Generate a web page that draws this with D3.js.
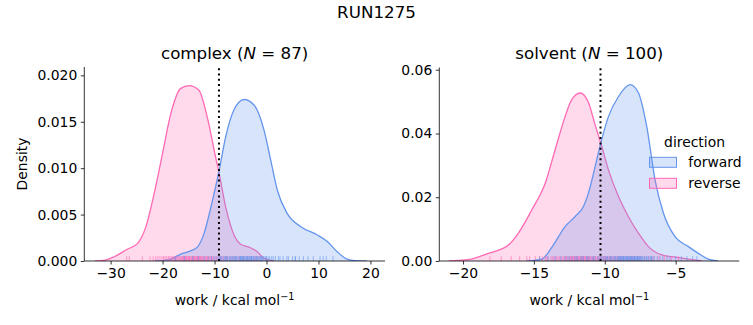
<!DOCTYPE html>
<html>
<head>
<meta charset="utf-8">
<script src="https://cdn.jsdelivr.net/npm/d3@7/dist/d3.min.js"></script>
<style>
html, body { margin: 0; padding: 0; background: #fff; }
svg { display: block; font-family: "DejaVu Sans", sans-serif; }
</style>
</head>
<body>
<svg id="chart" width="753" height="325"></svg>
<script>
// ---------- data ----------
const figureTitle = "RUN1275";
const directions = ["forward", "reverse"];
const colors = { forward: "#6495ED", reverse: "#FF69B4" };

// KDE curves: [work, density]
const complexForwardCurve = [[-21.5,0],[-20,0.00005],[-18.4,0.0002],[-16.5,0.00075],[-14.6,0.0011],[-13.3,0.0015],[-12.0,0.0030],[-10.7,0.0058],[-9.13,0.0097],[-7.85,0.0134],[-6.25,0.0163],[-4.33,0.0174],[-2.4,0.0168],[-0.48,0.0141],[0.8,0.0109],[2.1,0.0076],[4.0,0.0051],[6.6,0.0037],[9.8,0.0028],[11.7,0.0021],[13.6,0.0010],[15.5,0.0002],[17,0.00004],[19.3,0]];
const complexReverseCurve = [[-33,0],[-31,0.0001],[-29.3,0.00046],[-26.8,0.00126],[-24.8,0.0019],[-23.2,0.0037],[-21.6,0.0073],[-20.0,0.0116],[-18.4,0.0159],[-16.5,0.0186],[-14.9,0.0189],[-13.0,0.0184],[-11.4,0.0155],[-9.8,0.0112],[-9.13,0.0095],[-7.85,0.0058],[-6.25,0.0028],[-4.96,0.0018],[-3.37,0.0015],[-1.77,0.0010],[-0.5,0.0003],[1.4,0]];
const solventForwardCurve = [[-15.5,0],[-14.44,0.0006],[-13.7,0.0045],[-12.8,0.0108],[-12.1,0.0139],[-11.5,0.0171],[-11.15,0.0213],[-10.68,0.0296],[-10.28,0.037],[-9.74,0.0453],[-9.03,0.0516],[-8.21,0.0553],[-7.62,0.0527],[-7.04,0.0422],[-6.45,0.0254],[-5.86,0.015],[-5.03,0.0076],[-4.1,0.0045],[-3.4,0.0024],[-2.7,0.0006],[-2.0,0]];
const solventReverseCurve = [[-21,0],[-20.2,0.0002],[-19.4,0.0006],[-18.2,0.0024],[-16.8,0.005],[-16.1,0.0087],[-15.15,0.016],[-14.2,0.0244],[-13.5,0.0349],[-12.8,0.0453],[-12.33,0.0506],[-11.73,0.0527],[-11.15,0.0497],[-10.68,0.0427],[-10.28,0.037],[-9.74,0.0286],[-9.03,0.0202],[-8.33,0.0139],[-7.62,0.0087],[-6.92,0.0045],[-5.98,0.0019],[-5.0,0.0012],[-4.1,0.0006],[-3.16,0]];

// rug samples (work values)
const complexForwardWork = [-17.5,-15.8,-14.2,-13.1,-12.0,-11.2,-10.6,-10.1,-9.7,-9.3,-9.0,-8.7,-8.4,-8.1,-7.9,-7.6,-7.4,-7.1,-6.9,-6.7,-6.5,-6.3,-6.1,-5.9,-5.7,-5.5,-5.3,-5.1,-4.9,-4.8,-4.6,-4.4,-4.3,-4.1,-3.9,-3.8,-3.6,-3.4,-3.3,-3.1,-2.9,-2.8,-2.6,-2.4,-2.2,-2.0,-1.8,-1.6,-1.4,-1.2,-1.0,-0.8,-0.6,-0.3,0.0,0.3,0.6,1.0,1.3,1.7,2.3,2.6,3.2,3.9,4.2,5.0,5.5,5.6,6.3,7.1,8.0,9.0,10.3,10.9,11.5,12.8,-8.9,-7.7,-6.0,-5.0,-4.5,-3.7,-3.0,-2.5,-1.9,-1.1,-0.1];
const complexReverseWork = [-26.9,-26.4,-23.9,-22.4,-21.8,-21.3,-20.9,-20.5,-20.1,-19.8,-19.5,-19.2,-18.9,-18.7,-18.4,-18.2,-18.0,-17.8,-17.6,-17.4,-17.2,-17.0,-16.8,-16.6,-16.4,-16.3,-16.1,-15.9,-15.8,-15.6,-15.4,-15.3,-15.1,-15.0,-14.8,-14.7,-14.5,-14.4,-14.2,-14.1,-13.9,-13.8,-13.6,-13.5,-13.3,-13.2,-13.0,-12.8,-12.7,-12.5,-12.3,-12.2,-12.0,-11.8,-11.6,-11.4,-11.2,-11.0,-10.8,-10.6,-10.4,-10.1,-9.9,-9.6,-9.3,-9.0,-8.7,-8.3,-7.9,-7.5,-7.0,-6.5,-5.9,-5.2,-4.4,-3.6,-2.9,-2.2,-1.6,-17.5,-16.0,-15.5,-14.9,-14.0,-13.4,-12.9,-11.5];
const solventForwardWork = [-14.6,-14.0,-13.5,-13.1,-12.8,-12.5,-12.3,-12.1,-11.9,-11.7,-11.5,-11.3,-11.1,-10.9,-10.7,-10.5,-10.3,-10.1,-10.0,-9.9,-9.8,-9.7,-9.6,-9.5,-9.4,-9.3,-9.2,-9.1,-9.0,-8.95,-8.9,-8.85,-8.8,-8.75,-8.7,-8.65,-8.6,-8.55,-8.5,-8.45,-8.4,-8.35,-8.3,-8.25,-8.2,-8.15,-8.1,-8.05,-8.0,-7.95,-7.9,-7.85,-7.8,-7.75,-7.7,-7.65,-7.6,-7.55,-7.5,-7.45,-7.4,-7.3,-7.2,-7.1,-7.0,-6.9,-6.8,-6.7,-6.6,-6.5,-6.3,-6.1,-5.9,-5.6,-5.4,-5.0,-4.6,-4.2,-3.8,-3.5,-12.6,-12.0,-11.6,-11.2,-10.8,-10.4,-10.2,-9.85,-9.55,-9.25,-9.05,-8.92,-8.68,-8.42,-8.18,-7.92,-7.68,-7.35,-7.05,-6.75];
const solventReverseWork = [-18.1,-17.3,-16.6,-16.0,-15.5,-15.3,-14.9,-14.6,-14.4,-14.2,-14.0,-13.8,-13.7,-13.5,-13.4,-13.2,-13.1,-13.0,-12.9,-12.8,-12.7,-12.6,-12.5,-12.4,-12.35,-12.3,-12.2,-12.15,-12.1,-12.0,-11.95,-11.9,-11.8,-11.75,-11.7,-11.65,-11.6,-11.5,-11.45,-11.4,-11.3,-11.25,-11.2,-11.1,-11.0,-10.9,-10.8,-10.7,-10.6,-10.5,-10.4,-10.3,-10.2,-10.1,-10.0,-9.9,-9.8,-9.7,-9.6,-9.5,-9.4,-9.3,-9.2,-9.1,-9.0,-8.9,-8.7,-8.5,-8.3,-8.1,-7.9,-7.7,-7.5,-7.2,-6.9,-6.6,-6.2,-5.8,-5.3,-4.8,-14.1,-13.6,-13.3,-12.75,-12.45,-12.25,-12.05,-11.85,-11.55,-11.35,-11.15,-11.05,-10.85,-10.65,-10.45,-10.25,-9.95,-9.65,-8.8,-8.0];

// dotted reference lines (free energy estimate)
const complexMarker = -9.15;
const solventMarker = -10.3;

// ticks
const complexXTicks = [-30, -20, -10, 0, 10, 20];
const complexYTicks = [0, 0.005, 0.010, 0.015, 0.020];
const solventXTicks = [-20, -15, -10, -5];
const solventYTicks = [0, 0.02, 0.04, 0.06];

const panels = [
  { name: "complex", n: 87, xDomain: [-35.06, 22.8], yDomain: [0, 0.0209],
    xRange: [84.3, 385], yRange: [261, 67], xTicks: complexXTicks, yTicks: complexYTicks, yFmt: ".3f",
    curves: { forward: complexForwardCurve, reverse: complexReverseCurve },
    rugs: { forward: complexForwardWork, reverse: complexReverseWork },
    marker: complexMarker, ylabel: true },
  { name: "solvent", n: 100, xDomain: [-21.67, -0.51], yDomain: [0, 0.0607],
    xRange: [439.3, 739.3], yRange: [261, 67.5], xTicks: solventXTicks, yTicks: solventYTicks, yFmt: ".2f",
    curves: { forward: solventForwardCurve, reverse: solventReverseCurve },
    rugs: { forward: solventForwardWork, reverse: solventReverseWork },
    marker: solventMarker, ylabel: false }
];

// ---------- drawing ----------
const svg = d3.select("#chart");
const FS = 13.9;      // 10pt
const TFS = 16.7;     // 12pt
const minus = s => s.replace(/-/g, "\u2212");

svg.append("text").attr("x", 376.5).attr("y", 18.3).attr("text-anchor", "middle")
  .attr("font-size", TFS).attr("fill", "#000").text(figureTitle);

panels.forEach(p => {
  const x = d3.scaleLinear().domain(p.xDomain).range(p.xRange);
  const y = d3.scaleLinear().domain(p.yDomain).range(p.yRange);
  const g = svg.append("g");

  const clipId = "clip-" + p.name;
  svg.append("clipPath").attr("id", clipId).append("rect")
    .attr("x", p.xRange[0]).attr("y", p.yRange[1])
    .attr("width", p.xRange[1] - p.xRange[0]).attr("height", p.yRange[0] - p.yRange[1]);
  const plot = g.append("g").attr("clip-path", `url(#${clipId})`);

  const area = d3.area().x(d => x(d[0])).y0(y(0)).y1(d => y(d[1])).curve(d3.curveMonotoneX);
  const line = d3.line().x(d => x(d[0])).y(d => y(d[1])).curve(d3.curveMonotoneX);

  // reverse first, forward on top
  ["reverse", "forward"].forEach(dir => {
    plot.append("path").datum(p.curves[dir]).attr("d", area)
      .attr("fill", colors[dir]).attr("fill-opacity", 0.25).attr("stroke", "none");
    plot.append("path").datum(p.curves[dir]).attr("d", line)
      .attr("fill", "none").attr("stroke", colors[dir]).attr("stroke-width", 1.3);
  });

  // rugs
  const rugH = 0.025 * (p.yRange[0] - p.yRange[1]);
  ["reverse", "forward"].forEach(dir => {
    plot.append("g").selectAll("line").data(p.rugs[dir]).join("line")
      .attr("x1", d => x(d)).attr("x2", d => x(d))
      .attr("y1", y(0)).attr("y2", y(0) - rugH)
      .attr("stroke", colors[dir]).attr("stroke-width", 1).attr("stroke-opacity", 0.6);
  });

  // dotted marker
  plot.append("line").attr("x1", x(p.marker)).attr("x2", x(p.marker))
    .attr("y1", p.yRange[0]).attr("y2", p.yRange[1])
    .attr("stroke", "#000").attr("stroke-width", 2).attr("stroke-dasharray", "2,3.3");

  // axes
  const xAxis = d3.axisBottom(x).tickValues(p.xTicks).tickSize(3.5).tickPadding(3.5)
    .tickFormat(d => minus(d3.format("d")(d)));
  const gx = g.append("g").attr("transform", `translate(0,${p.yRange[0]})`).call(xAxis);
  gx.select(".domain").attr("d", `M${p.xRange[0]},0H${p.xRange[1]}`);
  const yAxis = d3.axisLeft(y).tickValues(p.yTicks).tickSize(3.5).tickPadding(3.5)
    .tickFormat(d3.format(p.yFmt));
  const gy = g.append("g").attr("transform", `translate(${p.xRange[0]},0)`).call(yAxis);
  gy.select(".domain").attr("d", `M0,${p.yRange[0]}V${p.yRange[1]}`);
  [gx, gy].forEach(a => {
    a.selectAll("text").attr("font-size", FS).attr("font-family", "DejaVu Sans").attr("fill", "#000");
    a.selectAll("line").attr("stroke", "#000").attr("stroke-width", 0.8);
    a.select(".domain").attr("stroke", "#000").attr("stroke-width", 0.8);
  });

  const cx = (p.xRange[0] + p.xRange[1]) / 2;
  // title
  const t = g.append("text").attr("x", cx).attr("y", 58.7).attr("text-anchor", "middle")
    .attr("font-size", TFS).attr("fill", "#000");
  t.append("tspan").text(p.name + " (");
  t.append("tspan").attr("font-style", "italic").text("N");
  t.append("tspan").text(" = " + p.n + ")");

  // xlabel
  const xl = g.append("text").attr("x", cx).attr("y", 305).attr("text-anchor", "middle")
    .attr("font-size", FS).attr("fill", "#000");
  xl.append("tspan").text("work / kcal mol");
  xl.append("tspan").attr("dy", -5).attr("font-size", FS * 0.7).text("\u22121");

  if (p.ylabel) {
    g.append("text").attr("transform", `translate(27,${(p.yRange[0] + p.yRange[1]) / 2}) rotate(-90)`)
      .attr("text-anchor", "middle").attr("font-size", FS).attr("fill", "#000").text("Density");
  }
});

// legend
const leg = svg.append("g");
leg.append("text").attr("x", 694.5).attr("y", 146.7).attr("text-anchor", "middle")
  .attr("font-size", FS).attr("fill", "#000").text("direction");
directions.forEach((dir, i) => {
  const yTop = 157.3 + i * 21;
  leg.append("rect").attr("x", 649.5).attr("y", yTop).attr("width", 27).attr("height", 10)
    .attr("fill", colors[dir]).attr("fill-opacity", 0.25)
    .attr("stroke", colors[dir]).attr("stroke-width", 1);
  leg.append("text").attr("x", 688.3).attr("y", yTop + 9.6).attr("font-size", FS)
    .attr("fill", "#000").text(dir);
});
</script>
</body>
</html>
